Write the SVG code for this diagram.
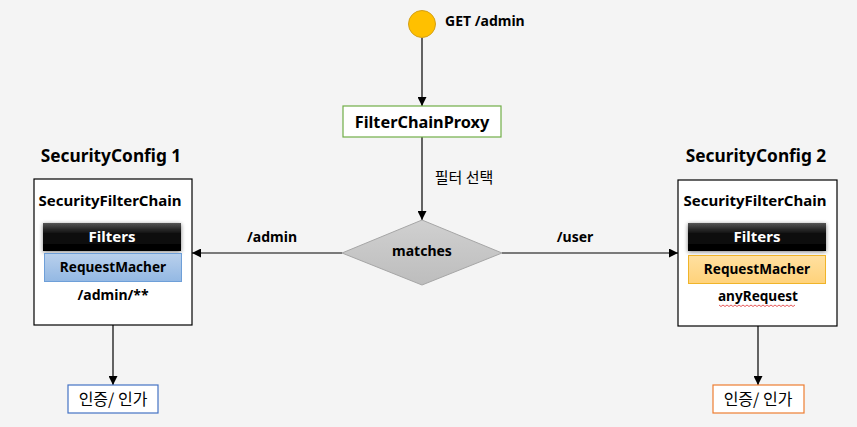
<svg xmlns="http://www.w3.org/2000/svg" width="857" height="427" viewBox="0 0 857 427">
<style>
text{font-family:"Noto Sans","Noto Sans CJK KR",sans-serif;font-weight:bold;fill:#000;text-anchor:middle}
.ln{stroke:#000;stroke-width:1.2;fill:none}
.box{fill:#fff;stroke:#000;stroke-width:1.2}
.t14{font-size:14px}
.t15{font-size:15px}
.rm{font-size:13.6px}
.t16{font-size:16.3px}
.t17{font-size:17.3px}
.kr{font-family:"Noto Sans CJK KR",sans-serif;font-weight:normal;font-size:15px}
.kr16{font-size:16px}
.wt{fill:#fff}
</style>
<defs>
<marker id="ah" viewBox="0 0 10 10" refX="10" refY="5" markerWidth="9" markerHeight="9" markerUnits="userSpaceOnUse" orient="auto"><path d="M0,0L10,5L0,10z" fill="#000"/></marker>
<linearGradient id="blk" x1="0" y1="0" x2="0" y2="1"><stop offset="0" stop-color="#555"/><stop offset="0.35" stop-color="#111"/><stop offset="1" stop-color="#000"/></linearGradient>
<linearGradient id="blu" x1="0" y1="0" x2="0" y2="1"><stop offset="0" stop-color="#b9d0ec"/><stop offset="1" stop-color="#93b8e3"/></linearGradient>
<linearGradient id="org" x1="0" y1="0" x2="0" y2="1"><stop offset="0" stop-color="#ffe0a0"/><stop offset="1" stop-color="#ffd27a"/></linearGradient>
<linearGradient id="gry" x1="0" y1="0" x2="0" y2="1"><stop offset="0" stop-color="#d0d0d0"/><stop offset="1" stop-color="#bdbdbd"/></linearGradient>
<filter id="sh" x="-10%" y="-30%" width="120%" height="160%"><feGaussianBlur in="SourceAlpha" stdDeviation="2"/><feOffset dy="1"/><feComponentTransfer><feFuncA type="linear" slope="0.5"/></feComponentTransfer><feMerge><feMergeNode/><feMergeNode in="SourceGraphic"/></feMerge></filter>
</defs>
<rect width="857" height="427" fill="#f4f4f4"/>

<g id="connectors">
<line class="ln" x1="422" y1="38" x2="422" y2="106" marker-end="url(#ah)"/>
<line class="ln" x1="422" y1="137" x2="422" y2="220" marker-end="url(#ah)"/>
<text class="kr" x="464" y="183">필터 선택</text>
<line class="ln" x1="342" y1="253" x2="192" y2="253" marker-end="url(#ah)"/>
<text class="t14" x="272" y="242">/admin</text>
<line class="ln" x1="502" y1="253" x2="678" y2="253" marker-end="url(#ah)"/>
<text class="t14" x="575" y="242">/user</text>
<line class="ln" x1="113" y1="325" x2="113" y2="385" marker-end="url(#ah)"/>
<line class="ln" x1="758" y1="326" x2="758" y2="385" marker-end="url(#ah)"/>
</g>

<g id="start">
<circle cx="422" cy="24" r="13.5" fill="#ffc000" stroke="#d4a017" stroke-width="1"/>
<text class="t14" x="445" y="26" style="text-anchor:start">GET /admin</text>
</g>

<g id="filterChainProxy">
<rect x="343" y="106" width="158" height="31" fill="#fff" stroke="#70ad47" stroke-width="1.2"/>
<text class="t16" x="422" y="128">FilterChainProxy</text>
</g>

<g id="matches">
<polygon points="422,220 502,253 422,285 342,253" fill="url(#gry)" stroke="#a6a6a6" stroke-width="1"/>
<text class="t14" x="422" y="256">matches</text>
</g>

<g id="securityConfig1">
<text class="t17" x="111" y="162">SecurityConfig 1</text>
<rect class="box" x="34" y="179" width="158" height="146"/>
<text class="t15" x="110" y="206">SecurityFilterChain</text>
<rect x="43" y="223" width="138" height="28" fill="url(#blk)" filter="url(#sh)"/>
<text class="t15 wt" x="112" y="242">Filters</text>
<rect x="44.5" y="253.5" width="137" height="28" fill="url(#blu)" stroke="#6e9fd8" stroke-width="1"/>
<text class="rm" x="113" y="272">RequestMacher</text>
<text class="t14" x="113" y="300">/admin/**</text>
</g>

<g id="securityConfig2">
<text class="t17" x="756" y="162">SecurityConfig 2</text>
<rect class="box" x="678" y="180" width="159" height="146"/>
<text class="t15" x="755" y="206">SecurityFilterChain</text>
<rect x="688" y="223" width="138" height="28" fill="url(#blk)" filter="url(#sh)"/>
<text class="t15 wt" x="757" y="242">Filters</text>
<rect x="688.5" y="255.5" width="137" height="28" fill="url(#org)" stroke="#f0b429" stroke-width="1"/>
<text class="rm" x="757" y="274">RequestMacher</text>
<text class="rm" x="758" y="301">anyRequest</text>
<path d="M719,305 l2,1.5 l2,-1.5 l2,1.5 l2,-1.5 l2,1.5 l2,-1.5 l2,1.5 l2,-1.5 l2,1.5 l2,-1.5 l2,1.5 l2,-1.5 l2,1.5 l2,-1.5 l2,1.5 l2,-1.5 l2,1.5 l2,-1.5 l2,1.5 l2,-1.5 l2,1.5 l2,-1.5 l2,1.5 l2,-1.5 l2,1.5 l2,-1.5 l2,1.5 l2,-1.5 l2,1.5 l2,-1.5 l2,1.5 l2,-1.5 l2,1.5 l2,-1.5 l2,1.5 l2,-1.5 l2,1.5 l2,-1.5" fill="none" stroke="#e03030" stroke-width="0.8"/>
</g>

<g id="auth1">
<rect x="68" y="385" width="90" height="28" fill="#fff" stroke="#4472c4" stroke-width="1.2"/>
<text class="kr kr16" x="113" y="405">인증/ 인가</text>
</g>

<g id="auth2">
<rect x="713" y="385" width="91" height="28" fill="#fff" stroke="#ed7d31" stroke-width="1.2"/>
<text class="kr kr16" x="758" y="405">인증/ 인가</text>
</g>
</svg>
